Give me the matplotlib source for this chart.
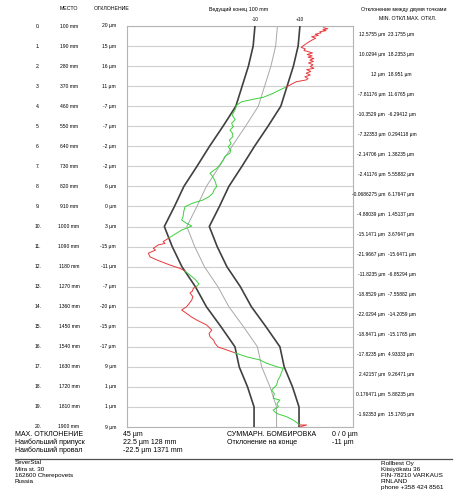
import matplotlib
matplotlib.use("Agg")
import matplotlib.pyplot as plt
from matplotlib.lines import Line2D
from matplotlib.transforms import blended_transform_factory

W, H = 460, 495
plt.rcParams["font.family"] = ["Liberation Sans", "DejaVu Sans"]

# measuring points along the roll, mm
positions = [100, 190, 280, 370, 460, 550, 640, 730, 820, 910, 1000,
             1090, 1180, 1270, 1360, 1450, 1540, 1630, 1720, 1810, 1900]
# deviation at each point, um
point_dev = [20, 15, 16, 11, -7, -7, -2, -2, 6, 0, 3,
             -15, -11, -7, -20, -15, -17, 9, 1, 1, 9]
# nominal profile (grey centre line), um
nominal = [0, -0.8, -2.9, -5.7, -8.5, -14.2, -20.2, -25.8, -31.6, -35.8, -40.3,
           -36.8, -32.5, -26.5, -21.6, -15.1, -8.9, -7.0, -3.3, -0.4, -0.4]
tolerance = 10

# min / max deviation between neighbouring points
seg_min = ["12.5755", "10.0294", "12", "-7.81176", "-10.3529", "-7.32353", "-2.14706",
           "-2.41176", "-0.0686275", "-4.88039", "-15.1471", "-21.9667", "-11.8235",
           "-18.8529", "-22.0294", "-18.8471", "-17.8235", "2.42157", "0.176471", "-1.92353"]
seg_max = ["23.1755", "18.2353", "18.951", "11.6765", "-6.29412", "0.294118", "1.38235",
           "5.55882", "6.17647", "1.45137", "3.67647", "-15.6471", "-6.85294",
           "-7.55882", "-14.2059", "-15.1765", "4.93333", "9.26471", "5.88235", "15.1765"]

# measured profile, split where it crosses the tolerance band (pos mm, dev um)
profile_segments = [
    [(108, 20.5), (112, 22.4), (117, 20.2), (121, 21.6), (126, 18.8), (131, 19.4),
     (137, 16.8), (142, 18.2), (148, 15.2), (155, 17.0), (163, 15.4), (170, 14.2),
     (178, 13.0), (188, 11.6), (196, 10.6), (203, 12.4), (210, 11.8), (215, 13.6),
     (221, 15.6), (228, 13.2), (234, 15.4), (240, 13.6), (246, 16.2), (253, 14.4),
     (259, 16.0), (266, 13.8), (274, 15.8), (282, 14.6), (290, 16.2), (296, 13.0),
     (304, 14.8), (312, 12.8), (320, 14.6), (328, 12.2), (336, 13.6), (342, 12.8),
     (350, 8.5), (358, 6.8), (365, 5.6), (375, 3.6)],
    [(375, 3.6), (387, 1.1), (402, -1.9), (420, -6.3), (429, -10.8), (440, -15.9),
     (455, -18.1), (477, -18.9), (500, -20.2), (520, -18.8), (537, -20.4), (552, -19.6),
     (567, -21.1), (582, -20.0), (597, -19.8), (612, -21.4), (628, -20.6), (642, -21.9),
     (656, -20.8), (670, -21.1), (686, -23.4), (702, -24.2), (720, -25.4), (739, -27.0),
     (750, -28.6), (761, -30.0), (777, -28.7), (800, -27.6), (821, -27.0),
     (835, -28.2), (850, -28.7), (866, -30.4), (881, -33.1), (895, -37.6), (911, -41.1),
     (930, -41.6), (956, -42.0), (971, -42.6), (986, -40.4), (998, -38.1), (1016, -42.6),
     (1039, -46.3), (1053, -48.5)],
    [(1053, -48.5), (1068, -50.8), (1076, -50.0), (1083, -53.1), (1098, -55.2),
     (1106, -54.2), (1113, -55.9), (1120, -57.4), (1136, -56.7), (1150, -53.7),
     (1173, -47.8), (1188, -43.3), (1200, -41.1)],
    [(1200, -41.1), (1218, -38.9), (1236, -36.7), (1258, -34.9), (1272, -36.2)],
    [(1272, -36.2), (1277, -37.4), (1290, -37.8), (1298, -38.9), (1315, -37.6),
     (1330, -38.1), (1345, -39.2), (1360, -40.4), (1375, -42.6), (1390, -40.4),
     (1405, -38.4), (1420, -35.9), (1442, -31.5), (1465, -29.2), (1480, -30.4),
     (1495, -30.0), (1510, -28.4), (1524, -27.8), (1541, -26.4), (1554, -22.6),
     (1567, -18.9)],
    [(1567, -18.9), (1585, -13.7), (1599, -7.8), (1614, -4.8), (1629, -0.4),
     (1637, 2.6), (1655, 1.8), (1674, 1.1), (1690, 0.2), (1712, -0.4), (1734, -2.6),
     (1750, -1.4), (1771, -1.9), (1779, 1.1), (1795, -0.2), (1809, 0.4), (1824, -1.9),
     (1839, -0.4), (1854, 4.1), (1869, 7.0), (1891, 10.0)],
    [(1891, 10.0), (1891, 13.0), (1898, 10.4)],
]
segment_outside = [True, False, True, False, True, False, True]

fig = plt.figure(figsize=(W / 100, H / 100), dpi=100)
ax = fig.add_axes([127 / W, 1 - 427 / H, 226 / W, 401 / H])
ax.set_xlim(-66.9, 33.6)
ax.set_ylim(1900, 100)
ax.set_xticks([])
ax.set_yticks([])
for s in ax.spines.values():
    s.set_color("#b4b4b4")
    s.set_linewidth(0.8)
for p in positions:
    ax.axhline(p, color="#cfcfcf", lw=0.8, zorder=1)

ax.plot(nominal, positions, color="#a8a8a8", lw=0.7, zorder=2)
ax.plot([n - tolerance for n in nominal], positions, color="#404040", lw=1.2, zorder=3)
ax.plot([n + tolerance for n in nominal], positions, color="#404040", lw=1.2, zorder=3)

for seg, outside in zip(profile_segments, segment_outside):
    ax.plot([d for _, d in seg], [p for p, _ in seg],
            color="#e8383c" if outside else "#3ccf3c", lw=0.7, zorder=4)

ax.text(nominal[0] - tolerance, 80, "-10", ha="center", va="bottom", fontsize=3.4)
ax.text(nominal[0] + tolerance, 80, "+10", ha="center", va="bottom", fontsize=3.4)

# row labels on the left and segment values on the right
tr = blended_transform_factory(fig.transFigure, ax.transData)
for i, (p, d) in enumerate(zip(positions, point_dev)):
    ax.text(38 / W, p, f"{i}.", transform=tr, ha="center", va="center", fontsize=3.6)
    ax.text(69 / W, p, f"{p} mm", transform=tr, ha="center", va="center", fontsize=3.6)
    ax.text(116 / W, p, f"{d} µm", transform=tr, ha="right", va="center", fontsize=3.6)
for k, (mn, mx) in enumerate(zip(seg_min, seg_max)):
    y = positions[k] + 36
    ax.text(385 / W, y, f"{mn} µm", transform=tr, ha="right", va="center", fontsize=3.5)
    ax.text(388 / W, y, f"{mx} µm", transform=tr, ha="left", va="center", fontsize=3.5)

def ftext(x, y, s, size, **kw):
    fig.text(x / W, 1 - y / H, s, fontsize=size, va="center", **kw)

ftext(69, 9, "МЕСТО", 3.8, ha="center")
ftext(112, 9, "ОТКЛОНЕНИЕ", 3.8, ha="center")
ftext(239, 9, "Ведущий конец 100 mm", 3.8, ha="center")
ftext(404, 9, "Отклонение между двумя точками", 3.8, ha="center")
ftext(408, 18, "MIN. ОТКЛ.MAX. ОТКЛ.", 3.8, ha="center")

ftext(15, 434, "MAX. ОТКЛОНЕНИЕ", 5)
ftext(15, 442, "Наибольший припуск", 5)
ftext(15, 450, "Наибольший провал", 5)
ftext(123, 434, "45 µm", 5)
ftext(123, 442, "22.5 µm 128 mm", 5)
ftext(123, 450, "-22.5 µm 1371 mm", 5)
ftext(227, 434, "СУММАРН. БОМБИРОВКА", 5)
ftext(227, 442, "Отклонение на конце", 5)
ftext(332, 434, "0 / 0 µm", 5)
ftext(332, 442, "-11 µm", 5)

fig.add_artist(Line2D([15 / W, 452 / W], [1 - 459 / H] * 2, color="#505050", lw=0.9))

for j, s in enumerate(["SeverStal", "Mira st. 30", "162600 Cherepovets", "Russia"]):
    ftext(15, 463 + 6.2 * j, s, 4.5)
for j, s in enumerate(["Rollbest Oy", "Kiisiyökatu 36", "FIN-78210 VARKAUS", "FINLAND",
                       "phone +358 424 8561"]):
    ftext(381, 463 + 6.2 * j, s, 4.6)

fig.savefig("out.png", dpi=100)
